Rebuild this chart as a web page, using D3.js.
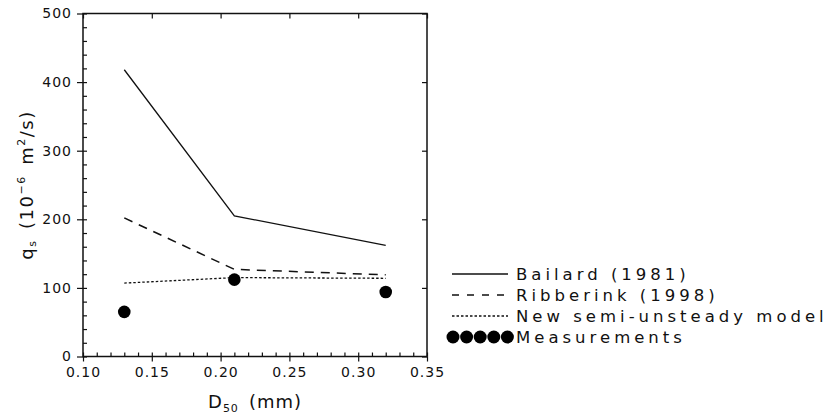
<!DOCTYPE html>
<html>
<head>
<meta charset="utf-8">
<script src="https://cdn.jsdelivr.net/npm/d3@7"></script>
<style>
  html, body { margin: 0; padding: 0; background: #fff; }
  svg { display: block; font-family: "DejaVu Sans", sans-serif; }
  .axis path, .axis line { stroke: #111; }
  .axis text { fill: #111; font-size: 14px; letter-spacing: 1px; font-family: "DejaVu Sans", sans-serif; }
</style>
</head>
<body>
<div id="chart"></div>
<script>
const width = 829;
const height = 415;

// grain size D50 (mm) and transport rates qs (10^-6 m2/s)
const d50 = [0.13, 0.21, 0.32];
const bailard = [418, 205, 162];
const ribberink = [202, 127, 119];
const semiUnsteady = [107, 115, 114];
const measured = [65, 112, 94];

const seriesNames = ["Bailard (1981)", "Ribberink (1998)", "New semi-unsteady model", "Measurements"];
const xTicks = [0.10, 0.15, 0.20, 0.25, 0.30, 0.35];
const yTicks = [0, 100, 200, 300, 400, 500];

const margin = { left: 83, right: 427, top: 13.5, bottom: 356.5 };

const x = d3.scaleLinear().domain([0.10, 0.35]).range([margin.left, margin.right]);
const y = d3.scaleLinear().domain([0, 500]).range([margin.bottom, margin.top]);

const svg = d3.select("#chart").append("svg")
    .attr("width", width)
    .attr("height", height);

// frame
svg.append("rect")
    .attr("x", margin.left).attr("y", margin.top)
    .attr("width", margin.right - margin.left)
    .attr("height", margin.bottom - margin.top)
    .attr("fill", "none")
    .attr("stroke", "#111")
    .attr("stroke-width", 1.5);

// bottom axis: major ticks outward, minor inward
svg.append("g").attr("class", "axis")
    .attr("transform", `translate(0,${margin.bottom})`)
    .call(d3.axisBottom(x).tickValues(xTicks).tickSize(5).tickPadding(6).tickFormat(d3.format(".2f")))
    .call(g => g.select(".domain").remove());

svg.append("g").attr("class", "axis")
    .attr("transform", `translate(0,${margin.bottom})`)
    .call(d3.axisBottom(x).ticks(25).tickSize(-4).tickFormat(""))
    .call(g => g.select(".domain").remove());

// top axis: inward majors
svg.append("g").attr("class", "axis")
    .attr("transform", `translate(0,${margin.top})`)
    .call(d3.axisTop(x).tickValues(xTicks).tickSize(-5).tickFormat(""))
    .call(g => g.select(".domain").remove());

// left axis
svg.append("g").attr("class", "axis")
    .attr("transform", `translate(${margin.left},0)`)
    .call(d3.axisLeft(y).tickValues(yTicks).tickSize(6).tickPadding(5))
    .call(g => g.select(".domain").remove());

svg.append("g").attr("class", "axis")
    .attr("transform", `translate(${margin.left},0)`)
    .call(d3.axisLeft(y).ticks(20).tickSize(-4).tickFormat(""))
    .call(g => g.select(".domain").remove());

// right axis: inward majors
svg.append("g").attr("class", "axis")
    .attr("transform", `translate(${margin.right},0)`)
    .call(d3.axisRight(y).tickValues(yTicks).tickSize(-5).tickFormat(""))
    .call(g => g.select(".domain").remove());

svg.selectAll(".axis line").attr("stroke-width", 1.2);

// axis titles
const xTitle = svg.append("text")
    .attr("x", (margin.left + margin.right) / 2)
    .attr("y", 408)
    .attr("text-anchor", "middle")
    .attr("font-size", 18)
    .attr("letter-spacing", 1)
    .attr("fill", "#111");
xTitle.append("tspan").text("D");
xTitle.append("tspan").attr("font-size", 11).attr("dy", 4).text("50");
xTitle.append("tspan").attr("dy", -4).text("\u2002(mm)");

const yTitle = svg.append("text")
    .attr("transform", `translate(33,${(margin.top + margin.bottom) / 2}) rotate(-90)`)
    .attr("text-anchor", "middle")
    .attr("font-size", 18)
    .attr("letter-spacing", 1.5)
    .attr("fill", "#111");
yTitle.append("tspan").text("q");
yTitle.append("tspan").attr("font-size", 11).attr("dy", 3).text("s");
yTitle.append("tspan").attr("dy", -3).text("\u2002(10");
yTitle.append("tspan").attr("font-size", 11).attr("dy", -8).text("\u22126");
yTitle.append("tspan").attr("dy", 8).text("\u2002m");
yTitle.append("tspan").attr("font-size", 11).attr("dy", -8).text("2");
yTitle.append("tspan").attr("dy", 8).text("/s)");

// model lines
const line = d3.line()
    .x((d, i) => x(d50[i]))
    .y(d => y(d));

const styles = [
    { data: bailard, dash: null, width: 1.3 },
    { data: ribberink, dash: "9,7", width: 1.5 },
    { data: semiUnsteady, dash: "2.5,2", width: 1.3 }
];

styles.forEach(s => {
    svg.append("path")
        .datum(s.data)
        .attr("d", line)
        .attr("fill", "none")
        .attr("stroke", "#111")
        .attr("stroke-width", s.width)
        .attr("stroke-dasharray", s.dash);
});

// measurements
svg.selectAll(".meas")
    .data(measured)
    .enter().append("circle")
    .attr("class", "meas")
    .attr("cx", (d, i) => x(d50[i]))
    .attr("cy", d => y(d))
    .attr("r", 6.3)
    .attr("fill", "#000");

// legend
const legendX = 452;
const legendW = 56;
const rowY = [274, 295, 316, 337];

const legend = svg.append("g");

styles.forEach((s, i) => {
    legend.append("line")
        .attr("x1", legendX).attr("x2", legendX + legendW)
        .attr("y1", rowY[i]).attr("y2", rowY[i])
        .attr("stroke", "#111")
        .attr("stroke-width", s.width)
        .attr("stroke-dasharray", i === 1 ? "7,8" : s.dash);
});

d3.range(5).forEach(k => {
    legend.append("circle")
        .attr("cx", legendX + 1 + k * 13.6)
        .attr("cy", rowY[3])
        .attr("r", 6.5)
        .attr("fill", "#000");
});

seriesNames.forEach((name, i) => {
    legend.append("text")
        .attr("x", 516)
        .attr("y", rowY[i] + 6)
        .attr("font-size", 16.5)
        .attr("letter-spacing", 4)
        .attr("fill", "#111")
        .text(name);
});
</script>
</body>
</html>
